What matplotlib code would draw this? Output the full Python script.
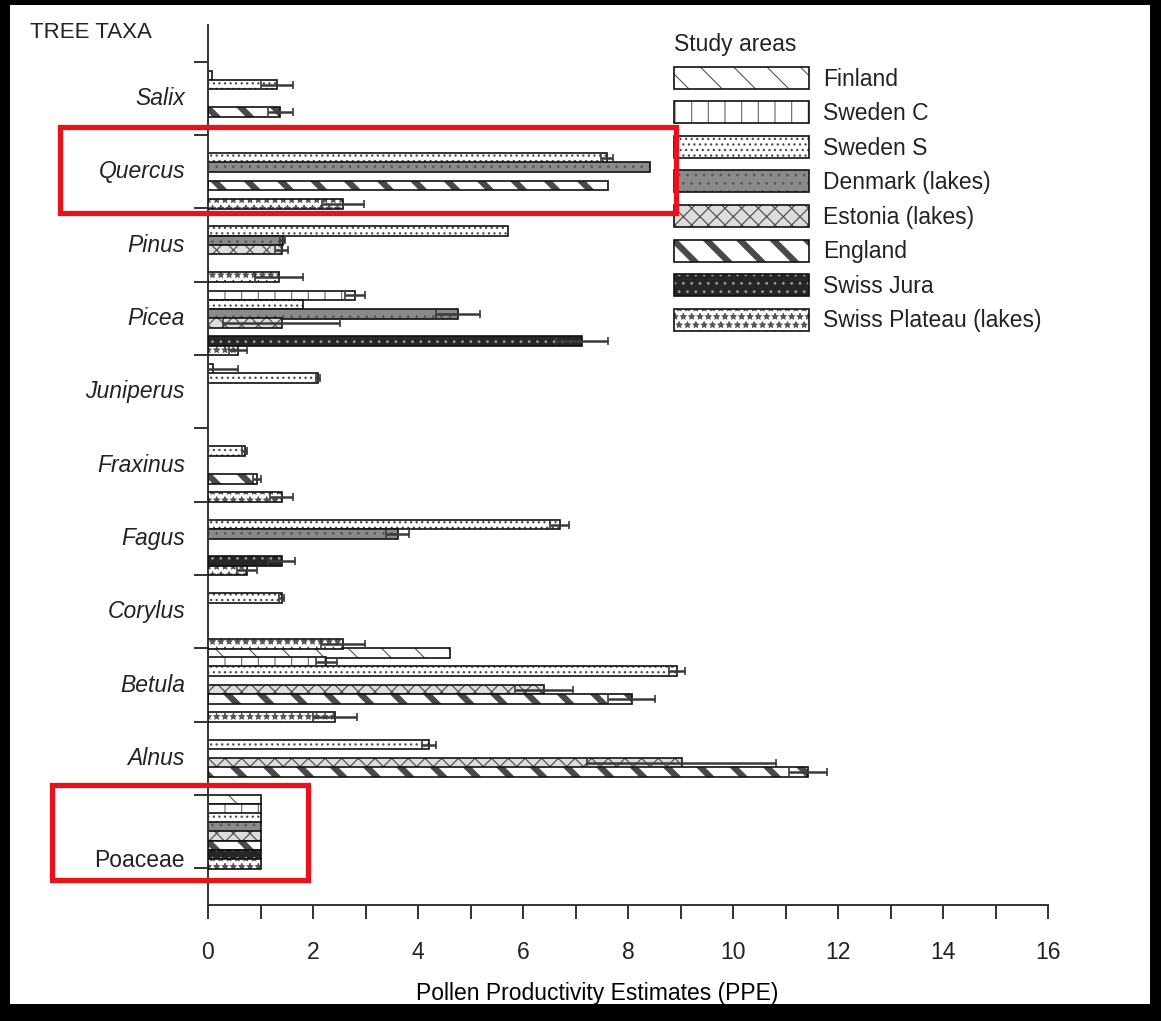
import numpy as np
import matplotlib
matplotlib.use("Agg")
import matplotlib.pyplot as plt
from matplotlib.colors import to_rgba
from matplotlib.patches import Rectangle, Patch
from matplotlib.legend_handler import HandlerTuple

plt.rcParams['font.family'] = ['Liberation Sans', 'DejaVu Sans']
plt.rcParams['text.color'] = '#222222'
plt.rcParams['xtick.color'] = '#222222'
plt.rcParams['ytick.color'] = '#222222'

nan = np.nan

# Taxa from top to bottom, and the study areas plotted inside each taxon group
taxa = ["Salix", "Quercus", "Pinus", "Picea", "Juniperus", "Fraxinus",
        "Fagus", "Corylus", "Betula", "Alnus", "Poaceae"]
areas = ["Finland", "Sweden C", "Sweden S", "Denmark (lakes)",
         "Estonia (lakes)", "England", "Swiss Jura", "Swiss Plateau (lakes)"]

# PPE values per study area (order of `taxa`), NaN where no estimate exists
ppe_finland = [nan, nan, nan, nan, nan, nan, nan, nan, 4.60, nan, 1.0]
ppe_sweden_c = [0.08, nan, nan, 2.80, 0.10, nan, nan, nan, 2.25, nan, 1.0]
ppe_sweden_s = [1.31, 7.60, 5.71, 1.81, 2.10, 0.70, 6.70, 1.40, 8.93, 4.21, 1.0]
ppe_denmark = [nan, 8.42, 1.42, 4.76, nan, nan, 3.61, nan, nan, nan, 1.0]
ppe_estonia = [nan, nan, 1.40, 1.40, nan, nan, nan, nan, 6.40, 9.02, 1.0]
ppe_england = [1.38, 7.62, nan, nan, nan, 0.93, nan, nan, 8.07, 11.43, 1.0]
ppe_swiss_jura = [nan, nan, nan, 7.12, nan, nan, 1.40, nan, nan, nan, 1.0]
ppe_swiss_plateau = [nan, 2.57, 1.35, 0.57, nan, 1.40, 0.74, 2.57, 2.42, nan, 1.0]

# Standard deviations of the estimates (0 where none is shown)
sd_finland = [0, 0, 0, 0, 0, 0, 0, 0, 0, 0, 0]
sd_sweden_c = [0, 0, 0, 0.19, 0.47, 0, 0, 0, 0.20, 0, 0]
sd_sweden_s = [0.31, 0.12, 0, 0, 0.04, 0.05, 0.18, 0.04, 0.15, 0.14, 0]
sd_denmark = [0, 0, 0.05, 0.42, 0, 0, 0.22, 0, 0, 0, 0]
sd_estonia = [0, 0, 0.12, 1.11, 0, 0, 0, 0, 0.56, 1.80, 0]
sd_england = [0.23, 0, 0, 0, 0, 0.07, 0, 0, 0.45, 0.36, 0]
sd_swiss_jura = [0, 0, 0, 0.50, 0, 0, 0.26, 0, 0, 0, 0]
sd_swiss_plateau = [0, 0.40, 0.46, 0.17, 0, 0.22, 0.19, 0.42, 0.42, 0, 0]

values = [ppe_finland, ppe_sweden_c, ppe_sweden_s, ppe_denmark,
          ppe_estonia, ppe_england, ppe_swiss_jura, ppe_swiss_plateau]
errors = [sd_finland, sd_sweden_c, sd_sweden_s, sd_denmark,
          sd_estonia, sd_england, sd_swiss_jura, sd_swiss_plateau]

# Fill styles: face colour, hatch, hatch colour, hatch line width
styles = [
    ("white", "\\", "#555555", 0.8),
    ("white", "|", "#666666", 0.8),
    ("white", "...", "#4a4a4a", 0.9),
    ("#8a8a8a", "..", "#5a5a5a", 0.8),
    ("#dddddd", "xx", "#555555", 0.9),
    ("white", "\\", "#4a4a4b", 4.5),
    ("#262626", "..", "#9a9a9a", 0.8),
    ("white", "**", "#555555", 0.8),
]

n_slots = len(areas)
W, H = 1161, 1021
fig = plt.figure(figsize=(W / 100, H / 100), dpi=100)
fig.patch.set_facecolor("black")
fig.add_artist(Rectangle((10 / W, 1 - 1004 / H), 1140 / W, 999 / H,
                         transform=fig.transFigure, facecolor="white",
                         edgecolor="none", zorder=-10))

ax = fig.add_axes([208 / W, 1 - 905 / H, 840 / W, 880 / H])
ax.set_facecolor("none")


def set_hatch_width(patches, hlw):
    for p in patches:
        if hasattr(p, "set_hatch_linewidth"):
            p.set_hatch_linewidth(hlw)


group_base = np.arange(len(taxa)) * n_slots
bar_h = 1.05
for s, (vals, errs, (face, hatch, hcol, hlw)) in enumerate(zip(values, errors, styles)):
    vals = np.asarray(vals, dtype=float)
    errs = np.asarray(errs, dtype=float)
    y = group_base + s + 0.5
    m = ~np.isnan(vals)
    with plt.rc_context({"hatch.linewidth": hlw}):
        fill = ax.barh(y[m], vals[m], height=bar_h, color=face, hatch=hatch,
                       edgecolor=hcol, linewidth=0, zorder=2 + s * 0.1)
    set_hatch_width(fill.patches, hlw)
    ax.barh(y[m], vals[m], height=bar_h, fill=False, edgecolor="#111111",
            linewidth=1.2, zorder=2.05 + s * 0.1)
    e = m & (errs > 0)
    ax.errorbar(vals[e], y[e], xerr=errs[e], fmt="none", ecolor="#3a3a3a",
                elinewidth=1.8, capsize=3, capthick=1.2, zorder=4)

ax.set_xlim(0, 16)
ax.set_ylim(len(taxa) * n_slots + 4, -4)
ax.set_xticks(np.arange(0, 17, 2))
ax.set_xticks(np.arange(0, 17, 1), minor=True)
ax.set_yticks(np.arange(0, len(taxa) * n_slots + 1, n_slots))
ax.set_yticklabels([])
ax.tick_params(axis="x", which="both", direction="out", length=10, width=1.3,
               pad=16, labelsize=16.5)
ax.tick_params(axis="y", which="both", direction="out", length=10, width=1.3)
for side in ("top", "right"):
    ax.spines[side].set_visible(False)
for side in ("left", "bottom"):
    ax.spines[side].set_linewidth(1.4)
    ax.spines[side].set_color("#333333")

ax.set_xlabel("Pollen Productivity Estimates (PPE)", fontsize=16.5)
ax.xaxis.set_label_coords((597 - 208) / 840, (905 - 982) / 880)

# Taxon names beside each group
ytf = ax.get_yaxis_transform()
for i, name in enumerate(taxa):
    yc = group_base[i] + n_slots / 2
    if name == "Poaceae":
        ax.text(-23 / 840, yc + 3.1, name, transform=ytf, ha="right",
                va="center", fontsize=16.5)
    else:
        ax.text(-23 / 840, yc, name, transform=ytf, ha="right", va="center",
                fontsize=16.5, style="italic")

fig.text(30 / W, 1 - 33 / H, "TREE TAXA", fontsize=16, va="center", ha="left")

# Legend of study areas
handles = []
for face, hatch, hcol, hlw in styles:
    p1 = Patch(facecolor=face, hatch=hatch, edgecolor=hcol, linewidth=0)
    p2 = Patch(fill=False, edgecolor="#111111", linewidth=1.2)
    handles.append((p1, p2))
leg = ax.legend(handles, areas, title="Study areas", loc="upper left",
                bbox_to_anchor=(674 / W, 1 - 33 / H),
                bbox_transform=fig.transFigure, frameon=False,
                fontsize=16.5, title_fontsize=16.5, alignment="left",
                handler_map={tuple: HandlerTuple(ndivide=1, pad=0)},
                handlelength=5.9, handleheight=1.1, handletextpad=0.62,
                labelspacing=0.47, borderpad=0, borderaxespad=0)

# Carry the hatch line widths over to the legend swatches
for r in leg.findobj(Rectangle):
    h = r.get_hatch()
    if not h:
        continue
    for face, hatch, hcol, hlw in styles:
        if h == hatch and np.allclose(r.get_edgecolor(), to_rgba(hcol)):
            set_hatch_width([r], hlw)

# Highlight boxes
for (x0, y0, x1, y1) in [(60, 127, 676, 213), (52, 785, 308, 880)]:
    fig.add_artist(Rectangle((x0 / W, 1 - y1 / H), (x1 - x0) / W, (y1 - y0) / H,
                             transform=fig.transFigure, fill=False,
                             edgecolor="#e5141c", linewidth=3.8, zorder=20))

fig.savefig("out.png", dpi=100, facecolor=fig.get_facecolor())
